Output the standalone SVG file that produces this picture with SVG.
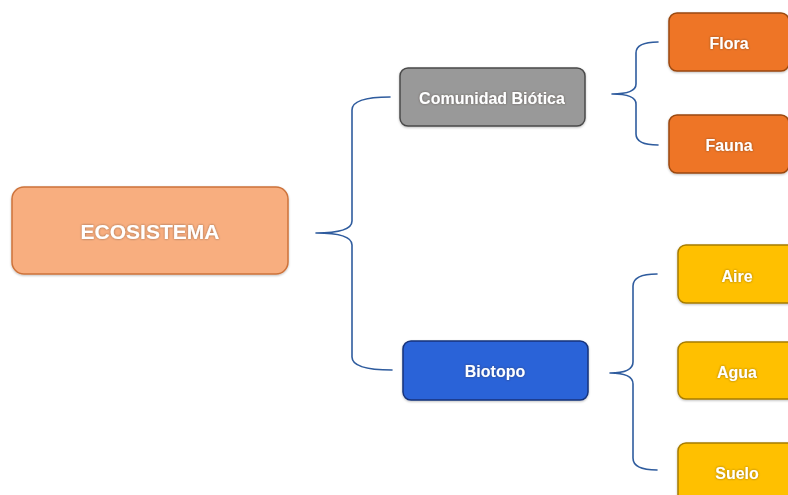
<svg xmlns="http://www.w3.org/2000/svg" width="788" height="495" viewBox="0 0 788 495">
  <style>
    .box { stroke-width: 1.5; }
    .lbl { font-family: "Liberation Sans", Arial, sans-serif; font-weight: bold; fill: #ffffff; text-anchor: middle; dominant-baseline: central; filter: url(#glow); }
    .brace { fill: none; stroke: #2F5C9E; stroke-width: 1.6; stroke-linejoin: round; stroke-linecap: round; }
    .root { fill: #F8AE7F; stroke: #CD733B; }
    .gray { fill: #999999; stroke: #4A4A4A; }
    .orange { fill: #EE7527; stroke: #9A4810; }
    .blue { fill: #2B63D8; stroke: #16337A; }
    .yellow { fill: #FFC000; stroke: #A67C00; }
  </style>
  <defs>
    <filter id="glow" x="-20%" y="-40%" width="140%" height="180%">
      <feDropShadow dx="0" dy="0" stdDeviation="1" flood-color="#3a2a20" flood-opacity="0.55"/>
    </filter>
    <filter id="shade" x="-5%" y="-10%" width="110%" height="125%">
      <feDropShadow dx="0" dy="1" stdDeviation="1" flood-color="#000" flood-opacity="0.25"/>
    </filter>
  </defs>
  <rect width="788" height="495" fill="#ffffff"/>

  <g id="connectors">
    <path class="brace" d="M390,97 Q352,97 352,110 L352,221 Q352,233 316,233 Q352,233 352,245 L352,357 Q352,370 392,370"/>
    <path class="brace" d="M658,42 Q636,42 636,53 L636,84 Q636,94 612,94 Q636,94 636,104 L636,134 Q636,145 658,145"/>
    <path class="brace" d="M657,274 Q633,274 633,286 L633,362 Q633,373 610,373 Q633,373 633,384 L633,458 Q633,470 657,470"/>
  </g>

  <g id="ecosistema" filter="url(#shade)">
    <rect class="box root" x="12" y="187" width="276" height="87" rx="12"/>
    <text class="lbl" x="150" y="231" font-size="21">ECOSISTEMA</text>
  </g>

  <g id="comunidad-biotica" filter="url(#shade)">
    <rect class="box gray" x="400" y="68" width="185" height="58" rx="8"/>
    <text class="lbl" x="492" y="98" font-size="16">Comunidad Biótica</text>
  </g>

  <g id="flora" filter="url(#shade)">
    <rect class="box orange" x="669" y="13" width="120" height="58" rx="8"/>
    <text class="lbl" x="729" y="43" font-size="16">Flora</text>
  </g>

  <g id="fauna" filter="url(#shade)">
    <rect class="box orange" x="669" y="115" width="120" height="58" rx="8"/>
    <text class="lbl" x="729" y="145" font-size="16">Fauna</text>
  </g>

  <g id="biotopo" filter="url(#shade)">
    <rect class="box blue" x="403" y="341" width="185" height="59" rx="8"/>
    <text class="lbl" x="495" y="371" font-size="16">Biotopo</text>
  </g>

  <g id="aire" filter="url(#shade)">
    <rect class="box yellow" x="678" y="245" width="120" height="58" rx="8"/>
    <text class="lbl" x="737" y="276" font-size="16">Aire</text>
  </g>

  <g id="agua" filter="url(#shade)">
    <rect class="box yellow" x="678" y="342" width="120" height="57" rx="8"/>
    <text class="lbl" x="737" y="372" font-size="16">Agua</text>
  </g>

  <g id="suelo" filter="url(#shade)">
    <rect class="box yellow" x="678" y="443" width="120" height="60" rx="8"/>
    <text class="lbl" x="737" y="473" font-size="16">Suelo</text>
  </g>
</svg>
